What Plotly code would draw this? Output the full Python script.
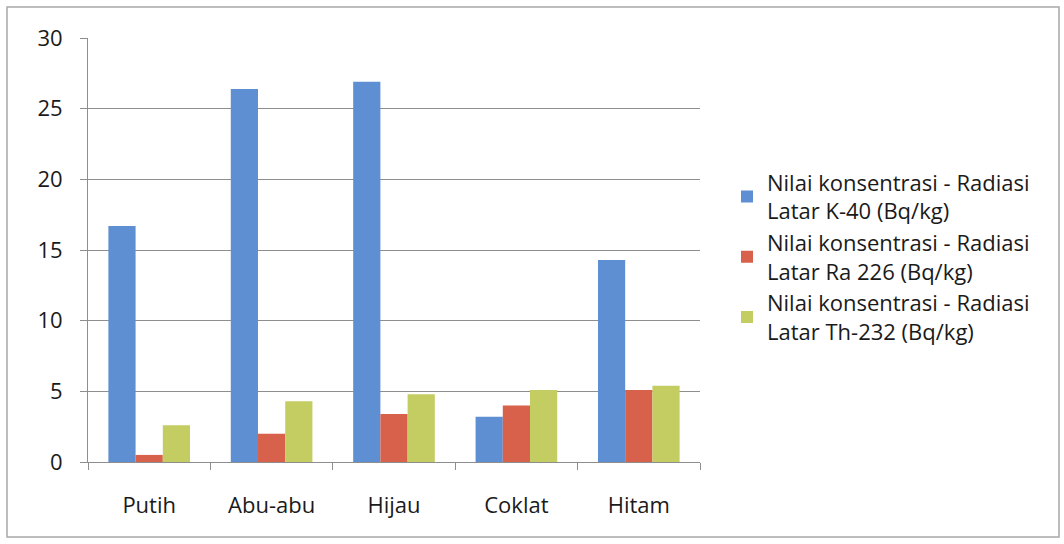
import plotly.graph_objects as go

# Sample colour categories
categories = ["Putih", "Abu-abu", "Hijau", "Coklat", "Hitam"]

# Concentration values (Bq/kg) per radionuclide
k40 = [16.7, 26.4, 26.9, 3.2, 14.3]
ra226 = [0.5, 2.0, 3.4, 4.0, 5.1]
th232 = [2.6, 4.3, 4.8, 5.1, 5.4]

series_names = [
    "Nilai konsentrasi - Radiasi<br>Latar K-40 (Bq/kg)",
    "Nilai konsentrasi - Radiasi<br>Latar Ra 226 (Bq/kg)",
    "Nilai konsentrasi - Radiasi<br>Latar Th-232 (Bq/kg)",
]
series_values = [k40, ra226, th232]
series_colors = ["#5F8FD3", "#D8614C", "#C4CD62"]

y_ticks = [0, 5, 10, 15, 20, 25, 30]

FONT = "Open Sans"
GRID = "#8E8E8E"
TEXT = "#1A1A1A"

fig = go.Figure()
for name, vals, col in zip(series_names, series_values, series_colors):
    fig.add_trace(go.Bar(x=categories, y=vals, name=name,
                         marker=dict(color=col, line=dict(width=0))))

W, H = 1064, 544
L, R, T, B = 88, 364, 38, 82
pw, ph = W - L - R, H - T - B

def px_x(x):
    return (x - L) / pw

def px_y(y):
    return (H - B - y) / ph

fig.update_layout(
    width=W, height=H,
    margin=dict(l=L, r=R, t=T, b=B),
    paper_bgcolor="white", plot_bgcolor="white",
    barmode="group", bargap=0.333, bargroupgap=0,
    font=dict(family=FONT, color=TEXT),
    legend=dict(
        x=px_x(727), y=px_y(257), xanchor="left", yanchor="middle",
        font=dict(family=FONT, size=22, color=TEXT),
        bgcolor="rgba(0,0,0,0)", itemwidth=30,
        traceorder="normal",
    ),
    xaxis=dict(
        showline=True, linecolor=GRID, linewidth=1,
        ticks="outside", tickson="boundaries", ticklen=7, tickcolor=GRID,
        tickfont=dict(family=FONT, size=22, color=TEXT),
        ticklabelstandoff=24,
        showgrid=False,
    ),
    yaxis=dict(
        range=[0, 30], tickvals=y_ticks,
        showline=True, linecolor=GRID, linewidth=1,
        ticks="outside", ticklen=7, tickcolor=GRID,
        showgrid=True, gridcolor=GRID, gridwidth=1,
        zeroline=False,
        tickfont=dict(family=FONT, size=22, color=TEXT),
        ticklabelstandoff=13,
    ),
    shapes=[
        dict(type="rect", xref="paper", yref="paper",
             x0=px_x(7), x1=px_x(1059), y0=px_y(537), y1=px_y(7),
             line=dict(color="#A8A8A8", width=1.5), layer="below"),
    ],
)

fig.write_html("out.html")
